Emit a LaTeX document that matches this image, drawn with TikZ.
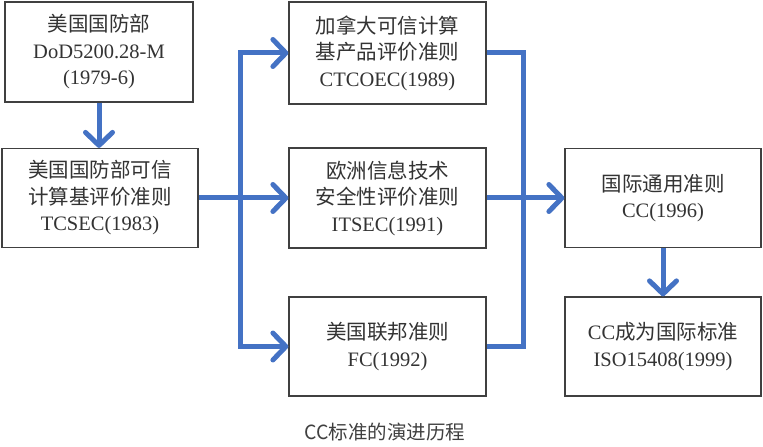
\documentclass[tikz,border=0pt]{standalone}
\usepackage{fontspec}
\setmainfont{Liberation Serif}
\newfontfamily\cjk{Noto Sans CJK SC}
\usetikzlibrary{arrows.meta}
\definecolor{flowblue}{HTML}{4472C4}
\begin{document}
\begin{tikzpicture}[x=1bp,y=-1bp,
  box/.style={draw=black!75, line width=1.2bp, fill=white, minimum width=196bp, minimum height=99bp, inner sep=0pt, align=center, text=black!80, font=\fontsize{20.5bp}{26.5bp}\selectfont},
  flow/.style={draw=flowblue, line width=5bp},
  tip/.style={-{Straight Barb[length=13bp,width=27bp,round]}}]
\useasboundingbox (0,0) rectangle (763,447);
\node[box, minimum width=188bp, minimum height=100bp] (dod) at (99,52) {{\cjk 美国国防部}\\DoD5200.28-M\\(1979-6)};
\node[box] (tcsec) at (100,198) {{\cjk 美国国防部可信}\\{\cjk 计算基评价准则}\\TCSEC(1983)};
\node[box, minimum width=197bp, minimum height=102bp] (ctcoec) at (387.5,53) {{\cjk 加拿大可信计算}\\{\cjk 基产品评价准则}\\CTCOEC(1989)};
\node[box, minimum width=197bp, minimum height=100bp] (itsec) at (387.5,198) {{\cjk 欧洲信息技术}\\{\cjk 安全性评价准则}\\ITSEC(1991)};
\node[box, minimum width=197bp] (fc) at (387.5,346.5) {{\cjk 美国联邦准则}\\FC(1992)};
\node[box] (cc) at (663,198) {{\cjk 国际通用准则}\\CC(1996)};
\node[box] (iso) at (663,346.5) {CC{\cjk 成为国际标准}\\ISO15408(1999)};
\node[text=black!75, font=\cjk\fontsize{19.5bp}{22bp}\selectfont] (title) at (385,432) {CC标准的演进历程};
\coordinate (split) at (240,198);
\coordinate (merge) at (523,198);
\path[flow,tip] (dod.south) -- (dod.south |- tcsec.north);
\path[flow] (tcsec.east) -- (split);
\path[flow,tip] (split) |- (ctcoec.west);
\path[flow,tip] (split) -- (itsec.west);
\path[flow,tip] (split) |- (fc.west);
\path[flow] (ctcoec.east) -| (merge);
\path[flow] (fc.east) -| (merge);
\path[flow,tip] (itsec.east) -- (cc.west);
\path[flow,tip] (cc.south) -- (iso.north);
\end{tikzpicture}
\end{document}
